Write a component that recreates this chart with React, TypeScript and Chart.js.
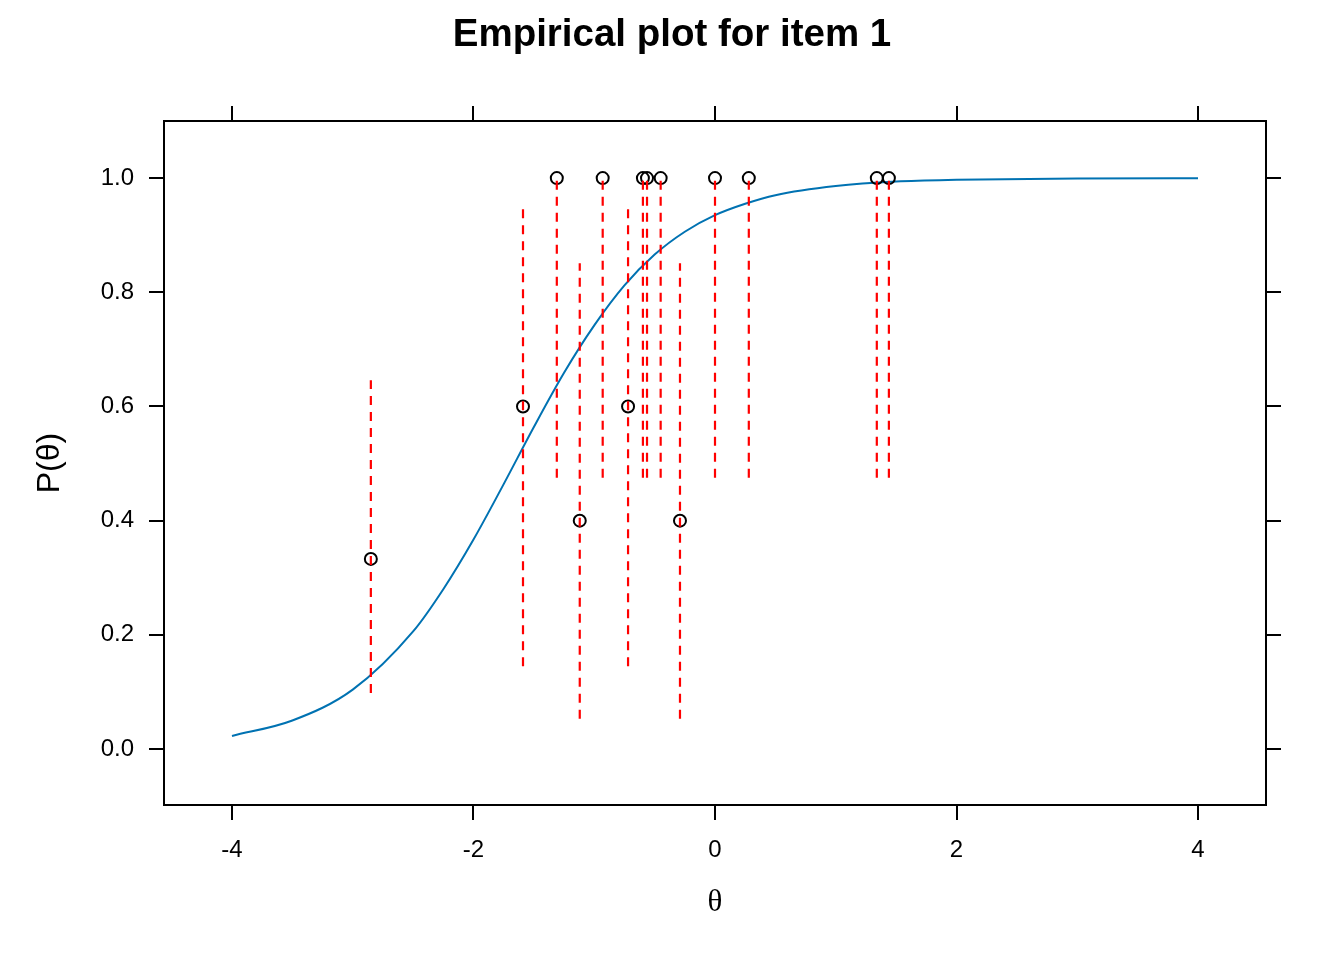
import React, { useEffect, useRef } from "react";
import { Chart, registerables } from "chart.js";

Chart.register(...registerables);

// Item characteristic curve
const curveTheta = [-4, -3.5, -3, -2.5, -2.25, -2, -1.75, -1.5, -1.25, -1, -0.75, -0.5, -0.25, 0, 0.25, 0.5, 1, 1.5, 2, 3, 4];
const curveProb = [0.023, 0.05, 0.104, 0.206, 0.28, 0.367, 0.464, 0.564, 0.659, 0.742, 0.812, 0.866, 0.906, 0.935, 0.955, 0.97, 0.986, 0.994, 0.997, 0.9994, 0.9999];

// Empirical points
const pointTheta = [-2.85, -1.59, -1.31, -1.12, -0.93, -0.72, -0.597, -0.563, -0.45, -0.29, 0.0, 0.28, 1.34, 1.44];
const pointProb = [0.333, 0.6, 1, 0.4, 1, 0.6, 1, 1, 1, 0.4, 1, 1, 1, 1];

// Confidence intervals
const ciLower = [0.098, 0.145, 0.475, 0.053, 0.475, 0.145, 0.475, 0.475, 0.475, 0.053, 0.475, 0.475, 0.475, 0.475];
const ciUpper = [0.646, 0.946, 1, 0.851, 1, 0.946, 1, 1, 1, 0.851, 1, 1, 1, 1];

// Axes
const xTicks = [-4, -2, 0, 2, 4];
const yTicks = [0, 0.2, 0.4, 0.6, 0.8, 1.0];
const xRange = [-4.563, 4.563];
const yRange = [-0.098, 1.1];

const SANS = "'Liberation Sans', Arial, sans-serif";
const SERIF = "'Liberation Serif', 'Times New Roman', serif";

export default function App() {
  const ref = useRef<HTMLCanvasElement>(null);

  useEffect(() => {
    const canvas = ref.current;
    if (!canvas) return;

    const gridOpts = {
      display: true,
      drawOnChartArea: false,
      drawTicks: true,
      tickLength: 15,
      color: "#000",
      lineWidth: 2,
    };
    const borderOpts = { display: true, color: "#000", width: 2 };

    const ciSets = pointTheta.map((t, i) => ({
      type: "line" as const,
      data: [
        { x: t, y: ciLower[i] },
        { x: t, y: ciUpper[i] },
      ],
      borderColor: "#FF0000",
      borderWidth: 2.2,
      borderDash: [9, 7],
      pointRadius: 0,
      pointHoverRadius: 0,
      fill: false,
      order: 1,
    }));

    const chart = new Chart(canvas, {
      type: "scatter",
      data: {
        datasets: [
          {
            type: "line",
            data: curveTheta.map((t, i) => ({ x: t, y: curveProb[i] })),
            borderColor: "#0072B2",
            borderWidth: 2,
            pointRadius: 0,
            pointHoverRadius: 0,
            cubicInterpolationMode: "monotone",
            fill: false,
            order: 3,
          },
          {
            type: "scatter",
            data: pointTheta.map((t, i) => ({ x: t, y: pointProb[i] })),
            pointStyle: "circle",
            pointRadius: 6,
            pointHoverRadius: 6,
            borderColor: "#000",
            backgroundColor: "rgba(0,0,0,0)",
            borderWidth: 2,
            order: 2,
          },
          ...ciSets,
        ] as any,
      },
      options: {
        responsive: false,
        animation: false,
        devicePixelRatio: 1,
        events: [],
        layout: { padding: 0 },
        plugins: {
          legend: { display: false },
          tooltip: { enabled: false },
          title: {
            display: true,
            text: "Empirical plot for item 1",
            color: "#000",
            font: { family: SANS, size: 38.5, weight: "bold" },
            padding: { top: 12, bottom: 0 },
          },
        },
        scales: {
          x: {
            type: "linear",
            position: "bottom",
            min: xRange[0],
            max: xRange[1],
            afterBuildTicks: (s: any) => {
              s.ticks = xTicks.map((v) => ({ value: v }));
            },
            afterFit: (s: any) => {
              s.height = 155;
            },
            grid: gridOpts,
            border: borderOpts,
            ticks: {
              color: "#000",
              font: { family: SANS, size: 24 },
              padding: 16,
              maxRotation: 0,
              autoSkip: false,
              callback: (v: any) => String(v),
            },
            title: {
              display: true,
              text: "θ",
              color: "#000",
              font: { family: SERIF, size: 31 },
              padding: { top: 0, bottom: 39 },
            },
          },
          x2: {
            type: "linear",
            position: "top",
            min: xRange[0],
            max: xRange[1],
            afterBuildTicks: (s: any) => {
              s.ticks = xTicks.map((v) => ({ value: v }));
            },
            afterFit: (s: any) => {
              s.height = 62.8;
            },
            grid: gridOpts,
            border: borderOpts,
            ticks: { display: false },
          },
          y: {
            type: "linear",
            position: "left",
            min: yRange[0],
            max: yRange[1],
            afterBuildTicks: (s: any) => {
              s.ticks = yTicks.map((v) => ({ value: v }));
            },
            afterFit: (s: any) => {
              s.width = 164;
            },
            grid: gridOpts,
            border: borderOpts,
            ticks: {
              color: "#000",
              font: { family: SANS, size: 24 },
              padding: 15,
              autoSkip: false,
              callback: (v: any) => Number(v).toFixed(1),
            },
            title: {
              display: true,
              text: "P(θ)",
              color: "#000",
              font: { family: SANS, size: 32 },
              padding: { top: 31, bottom: 0 },
            },
          },
          y2: {
            type: "linear",
            position: "right",
            min: yRange[0],
            max: yRange[1],
            afterBuildTicks: (s: any) => {
              s.ticks = yTicks.map((v) => ({ value: v }));
            },
            afterFit: (s: any) => {
              s.width = 78;
            },
            grid: gridOpts,
            border: borderOpts,
            ticks: { display: false },
          },
        },
      } as any,
    });

    return () => chart.destroy();
  }, []);

  return (
    <div style={{ position: "absolute", left: 0, top: 0, width: 1344, height: 960, background: "#fff" }}>
      <canvas ref={ref} width={1344} height={960} style={{ display: "block", width: 1344, height: 960 }} />
    </div>
  );
}
